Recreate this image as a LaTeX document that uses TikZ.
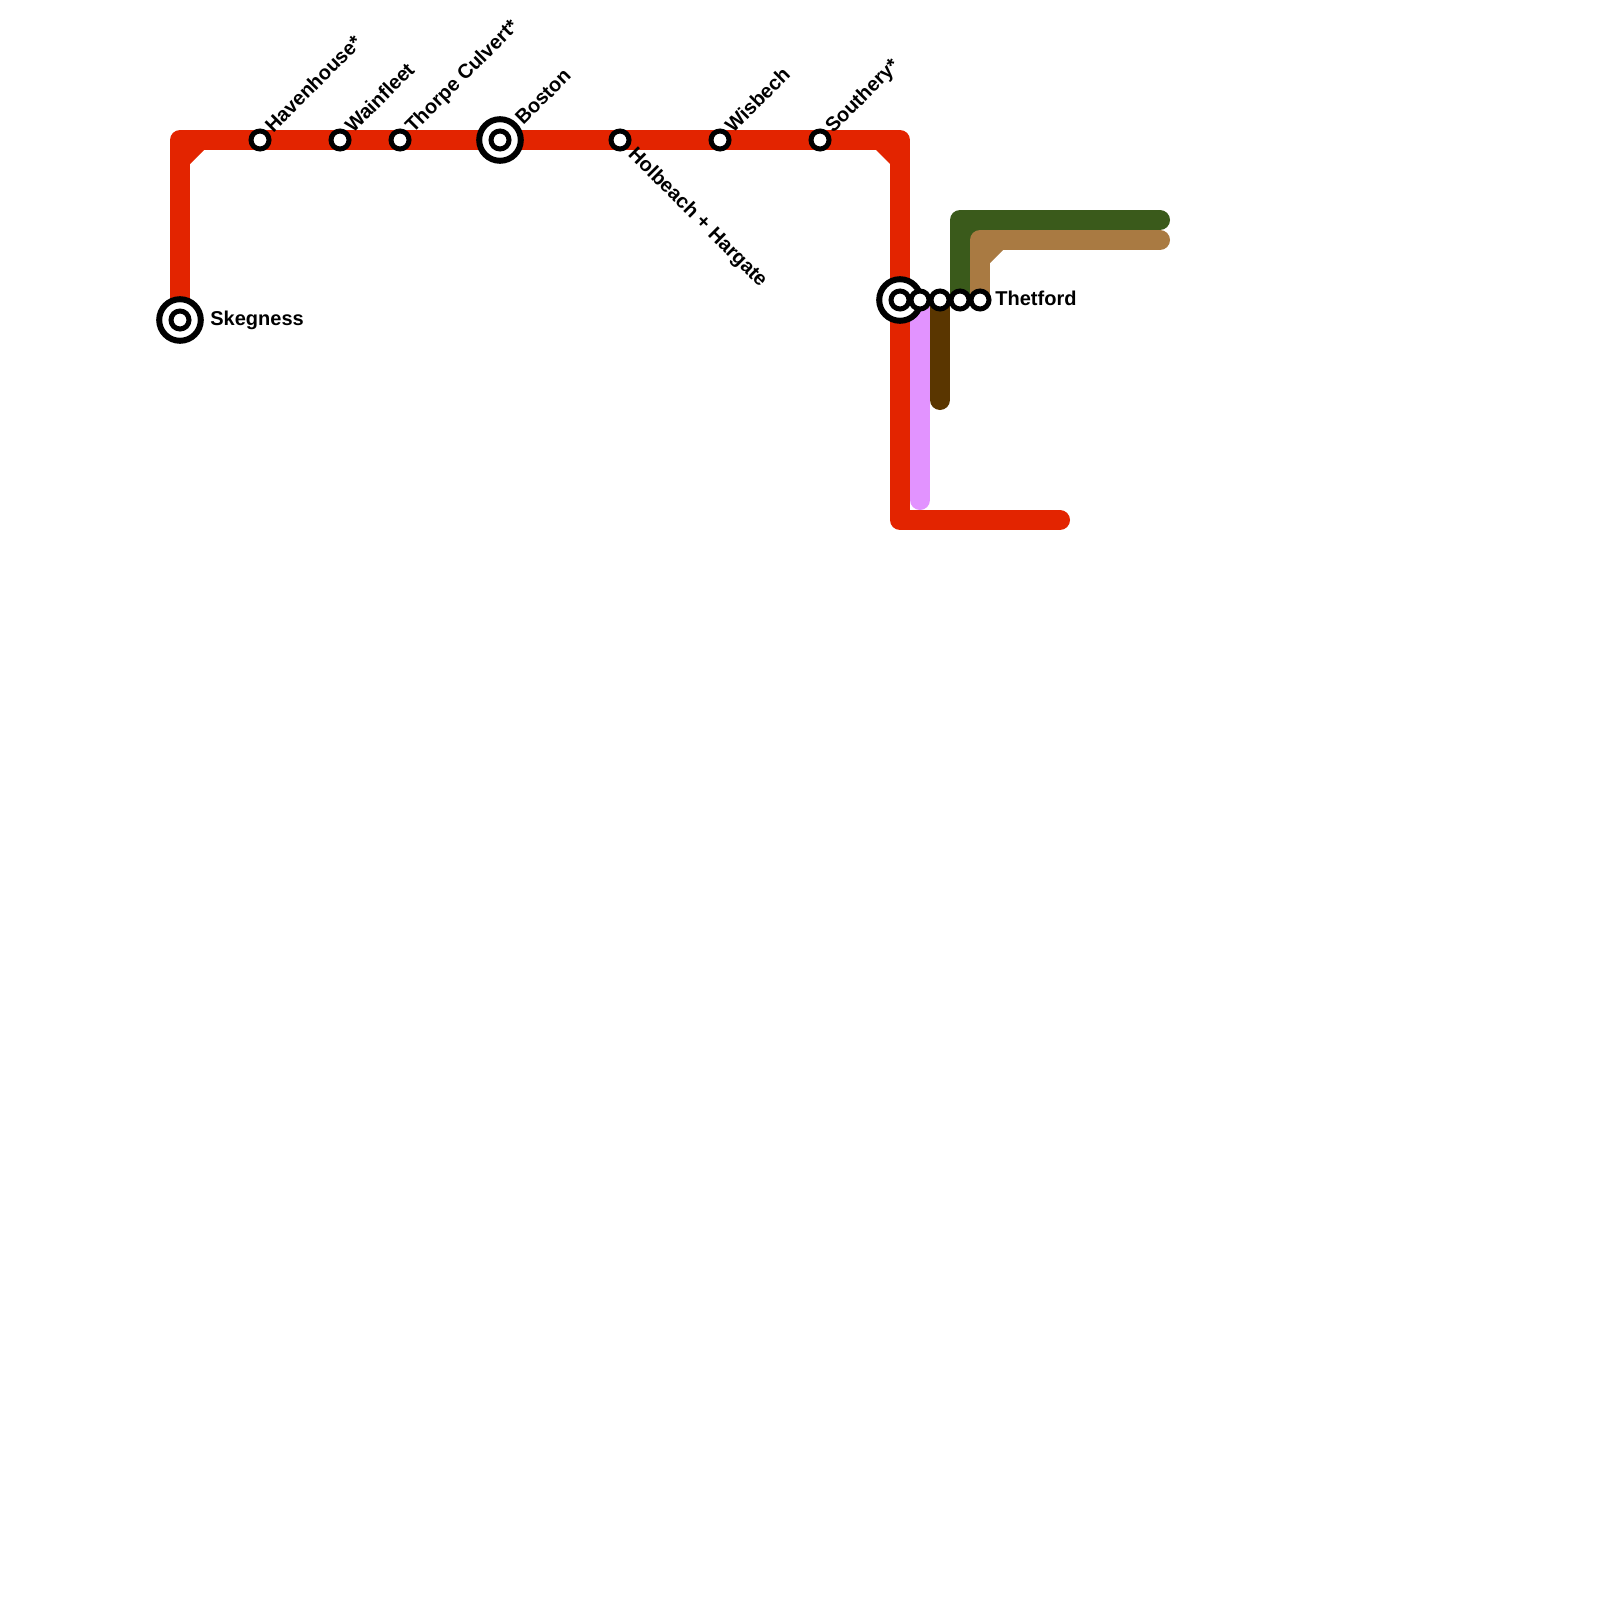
\documentclass[tikz,border=0pt]{standalone}
\usepackage{fontspec}
\setmainfont{Liberation Sans}
\usetikzlibrary{backgrounds}
\definecolor{linered}{HTML}{E32400}
\definecolor{linepink}{HTML}{E293FF}
\definecolor{linedark}{HTML}{5A3600}
\definecolor{linegreen}{HTML}{3A5A1B}
\definecolor{linetan}{HTML}{A97A42}

\begin{document}
\begin{tikzpicture}[
  x=0.5pt, y=-0.5pt,
  every node/.style={font=\bfseries},
  stn/.style={circle, draw=black, fill=white, line width=2.5pt, minimum size=9pt, inner sep=0pt, outer sep=0pt},
  hub/.style={circle, draw=black, fill=white, line width=3pt, minimum size=20.8pt, inner sep=0pt, outer sep=0pt},
  lbl/.style={inner sep=0pt, anchor=base west},
  up/.style={lbl, rotate=45},
  route/.style={line width=10pt, line join=round, line cap=round},
]
\useasboundingbox (0,0) rectangle (1600,1600);

% Corners
\coordinate (nw) at (180,140);
\coordinate (ne) at (900,140);
\coordinate (se) at (900,520);
\coordinate (redend) at (1060,520);
\coordinate (pinkend) at (920,500);
\coordinate (darkend) at (940,400);
\coordinate (greencorner) at (960,220);
\coordinate (greenend) at (1160,220);
\coordinate (tancorner) at (980,240);
\coordinate (tanend) at (1160,240);

% Hubs
\node[hub] (skegnessring) at (180,320) {};
\node[stn] (skegness) at (180,320) {};
\node[hub] (bostonring) at (500,140) {};
\node[stn] (boston) at (500,140) {};
\node[hub] (elyring) at (900,300) {};
\node[stn] (ely) at (900,300) {};

% Stations
\node[stn] (havenhouse) at (260,140) {};
\node[stn] (wainfleet) at (340,140) {};
\node[stn] (thorpe) at (400,140) {};
\node[stn] (holbeach) at (620,140) {};
\node[stn] (wisbech) at (720,140) {};
\node[stn] (southery) at (820,140) {};
\node[stn] (pinkstop) at (920,300) {};
\node[stn] (darkstop) at (940,300) {};
\node[stn] (greenstop) at (960,300) {};
\node[stn] (thetford) at (980,300) {};

% Lines
\begin{scope}[on background layer]
\draw[route, linered] (skegness.center) -- (nw) -- (ne) -- (se) -- (redend);
\fill[linered] (190,150) -- (204,150) -- (190,164) -- cycle;
\fill[linered] (876,150) -- (890,150) -- (890,164) -- cycle;
\draw[route, linepink] (pinkstop.center) -- (pinkend);
\draw[route, linedark] (darkstop.center) -- (darkend);
\draw[route, linegreen] (greenstop.center) -- (greencorner) -- (greenend);
\fill[linegreen] (970,230) -- (984,230) -- (970,244) -- cycle;
\draw[route, linetan] (thetford.center) -- (tancorner) -- (tanend);
\fill[linetan] (990,250) -- (1003,250) -- (990,263) -- cycle;
\end{scope}

% Labels
\node[lbl] at (210,325) {Skegness};
\node[lbl] at (995,305) {Thetford};
\node[up] at (273,134) {Havenhouse*};
\node[up] at (353,134) {Wainfleet};
\node[up] at (413,134) {Thorpe Culvert*};
\node[up] at (523,126) {Boston};
\node[up] at (733,134) {Wisbech};
\node[up] at (833,134) {Southery*};
\node[lbl, rotate=-45] at (627,155) {Holbeach + Hargate};

\end{tikzpicture}
\end{document}
